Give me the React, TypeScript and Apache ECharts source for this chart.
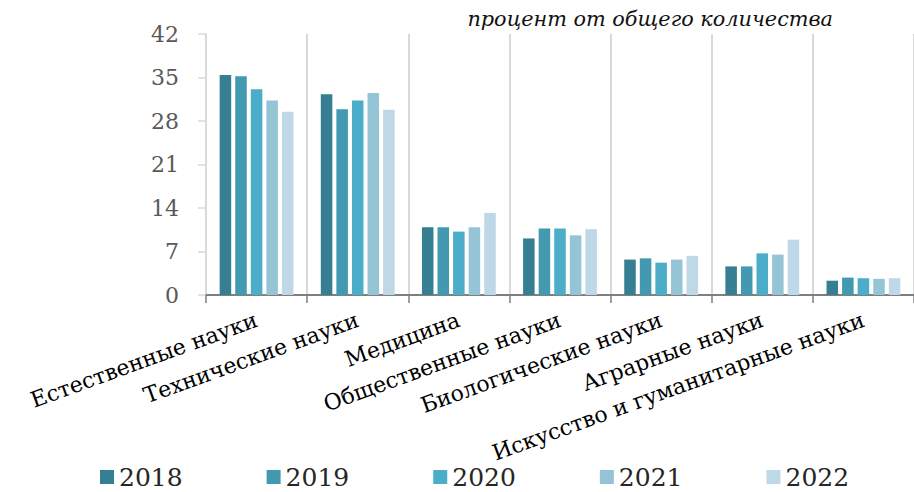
import React, { useEffect, useRef } from "react";
import * as echarts from "echarts";

const categories = [
  "Естественные науки",
  "Технические науки",
  "Медицина",
  "Общественные науки",
  "Биологические науки",
  "Аграрные науки",
  "Искусство и гуманитарные науки",
];
const years = ["2018", "2019", "2020", "2021", "2022"];
const s2018 = [35.4, 32.3, 10.9, 9.1, 5.7, 4.6, 2.3];
const s2019 = [35.2, 29.9, 10.9, 10.7, 5.9, 4.6, 2.8];
const s2020 = [33.1, 31.3, 10.2, 10.7, 5.2, 6.7, 2.7];
const s2021 = [31.3, 32.5, 10.9, 9.6, 5.7, 6.5, 2.6];
const s2022 = [29.5, 29.8, 13.2, 10.6, 6.3, 8.9, 2.7];
const seriesValues = [s2018, s2019, s2020, s2021, s2022];
const colors = ["#367f92", "#4399b0", "#4badc7", "#95c4d6", "#bed8e7"];
const yTicks = [0, 7, 14, 21, 28, 35, 42];
const subtitle = "процент от общего количества";

const SERIF = "'DejaVu Serif', 'Liberation Serif', serif";

export default function App() {
  const ref = useRef<HTMLDivElement>(null);
  useEffect(() => {
    if (!ref.current) return;
    const chart = echarts.init(ref.current, undefined, { renderer: "svg" });
    chart.setOption({
      animation: false,
      backgroundColor: "#ffffff",
      title: {
        text: subtitle,
        right: 81,
        top: 8,
        padding: 0,
        textStyle: {
          fontFamily: SERIF,
          fontStyle: "italic",
          fontWeight: "normal",
          fontSize: 20.8,
          color: "#111111",
        },
      },
      legend: {
        data: years,
        left: 100,
        top: 462,
        padding: 0,
        itemWidth: 14,
        itemHeight: 14,
        itemGap: 84,
        icon: "rect",
        textStyle: { fontFamily: SERIF, fontSize: 25, color: "#262626", lineHeight: 30 },
      },
      grid: { left: 206, right: -8, top: 34, bottom: 197, containLabel: false },
      xAxis: {
        type: "category",
        data: categories,
        axisLine: { lineStyle: { color: "#7f7f7f", width: 2 } },
        axisTick: { show: true, length: 8, lineStyle: { color: "#7f7f7f", width: 1.5 } },
        splitLine: { show: true, lineStyle: { color: "#d9d9d9", width: 2 } },
        axisLabel: {
          rotate: 20,
          interval: 0,
          margin: 24,
          fontFamily: SERIF,
          fontSize: 22,
          color: "#000000",
        },
      },
      yAxis: {
        type: "value",
        min: 0,
        max: 42,
        interval: 7,
        axisLine: { show: true, lineStyle: { color: "#d9d9d9", width: 1.5 } },
        axisTick: { show: true, length: 8, lineStyle: { color: "#d9d9d9", width: 1.5 } },
        splitLine: { show: false },
        axisLabel: {
          margin: 27,
          fontFamily: SERIF,
          fontSize: 22,
          color: "#595959",
          formatter: (v: number) => (yTicks.includes(v) ? String(v) : ""),
        },
      },
      series: years.map((y, i) => ({
        name: y,
        type: "bar",
        data: seriesValues[i],
        barGap: "35%",
        barCategoryGap: "27%",
        itemStyle: { color: colors[i] },
      })),
    });
    return () => chart.dispose();
  }, []);
  return (
    <div
      ref={ref}
      style={{ position: "absolute", left: 0, top: 0, width: 914, height: 492 }}
    />
  );
}
